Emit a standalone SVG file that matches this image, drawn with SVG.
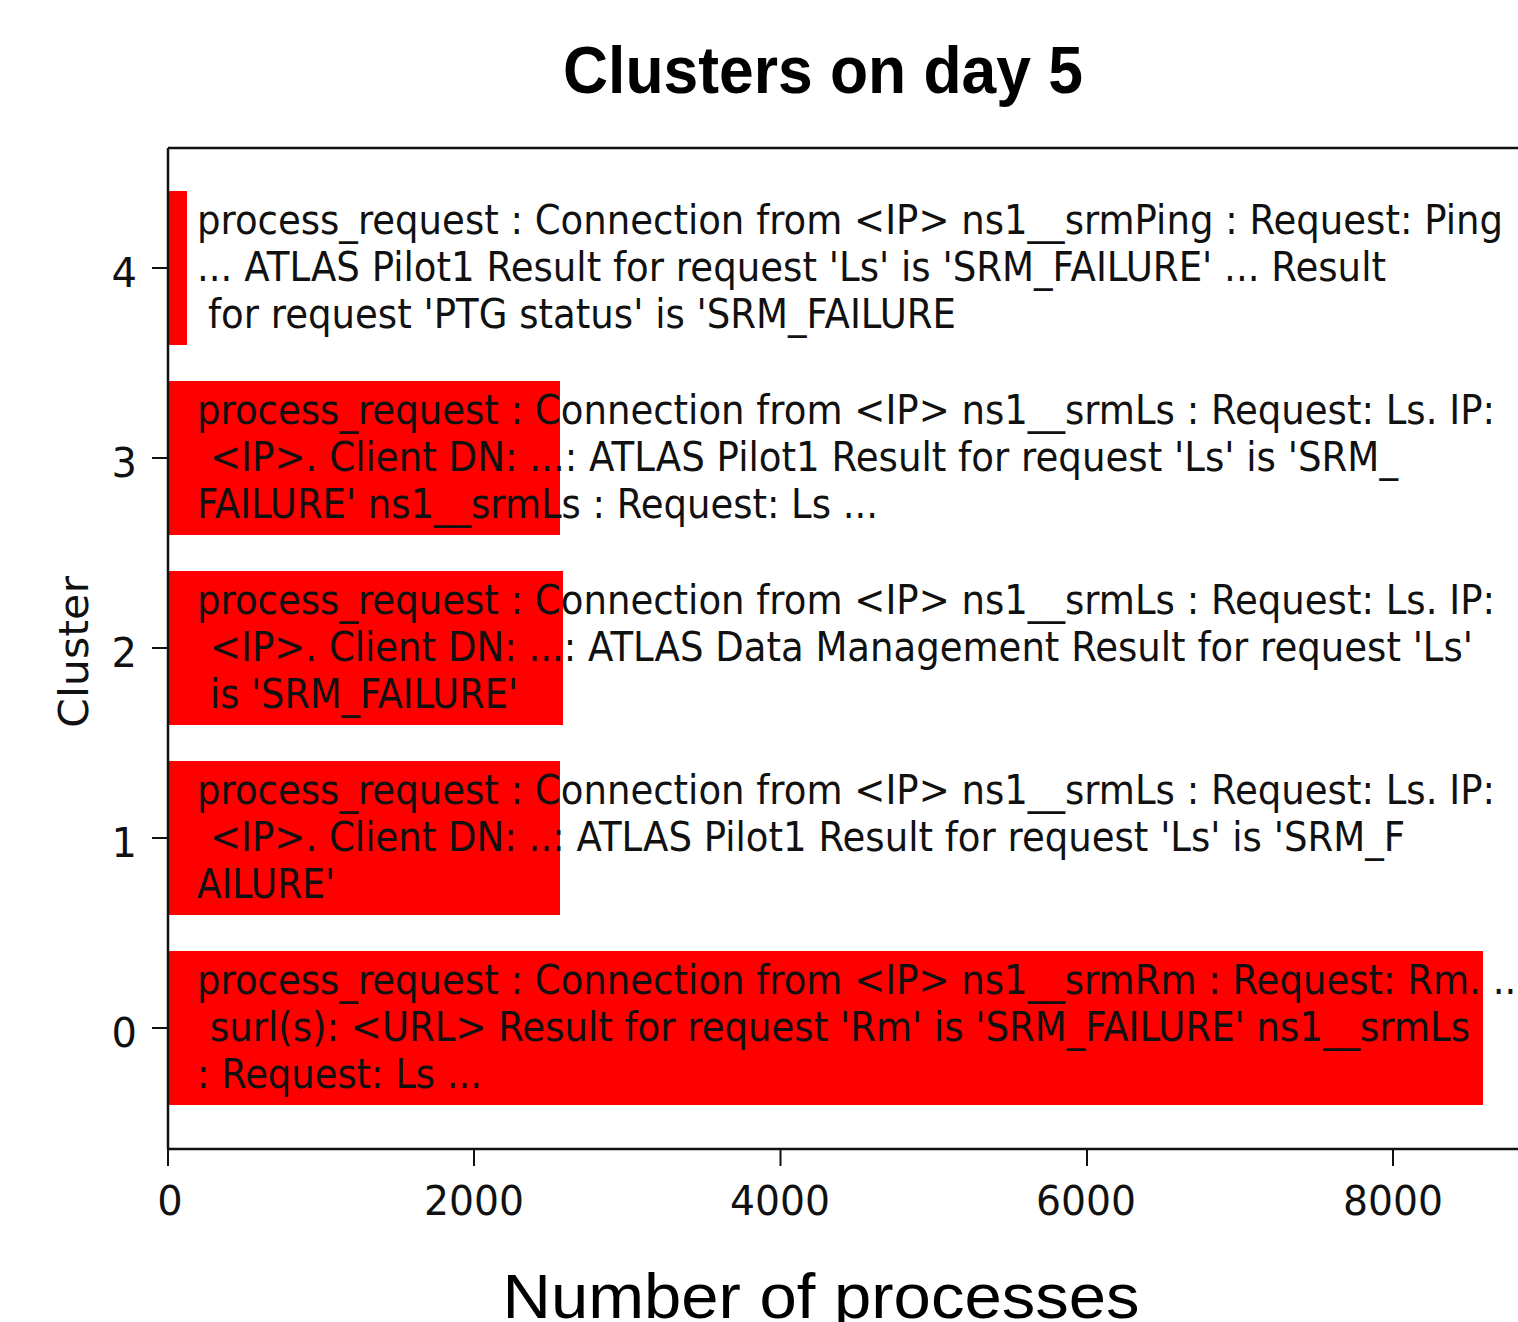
<svg xmlns="http://www.w3.org/2000/svg" width="1518" height="1322" viewBox="0 0 1518 1322">
<style>
.bar{fill:#ff0000}
.lbl{font-family:"DejaVu Sans",sans-serif;font-size:40px;fill:#111}
.tick{font-family:"DejaVu Sans",sans-serif;font-size:40px;fill:#111}
.spine{stroke:#111;stroke-width:2.5;fill:none}
.tk{stroke:#111;stroke-width:2}
</style>
<rect width="1518" height="1322" fill="#ffffff"/>
<text x="823" y="93" text-anchor="middle" font-family="Liberation Sans, Arial, sans-serif" font-weight="bold" font-size="66" textLength="520" lengthAdjust="spacingAndGlyphs" fill="#000">Clusters on day 5</text>

<g id="bars">
<g id="cluster4">
<rect class="bar" x="168" y="191" width="19" height="154"/>
<text class="lbl" x="197" y="234" textLength="1306" lengthAdjust="spacingAndGlyphs">process_request : Connection from &lt;IP&gt; ns1__srmPing : Request: Ping</text>
<text class="lbl" x="197" y="281" textLength="1189" lengthAdjust="spacingAndGlyphs">... ATLAS Pilot1 Result for request 'Ls' is 'SRM_FAILURE' ... Result</text>
<text class="lbl" x="208" y="328" textLength="748" lengthAdjust="spacingAndGlyphs">for request 'PTG status' is 'SRM_FAILURE</text>
</g>
<g id="cluster3">
<rect class="bar" x="168" y="381" width="392" height="154"/>
<text class="lbl" x="197" y="424" textLength="1298" lengthAdjust="spacingAndGlyphs">process_request : Connection from &lt;IP&gt; ns1__srmLs : Request: Ls. IP:</text>
<text class="lbl" x="210" y="471" textLength="1188" lengthAdjust="spacingAndGlyphs">&lt;IP&gt;. Client DN: ...: ATLAS Pilot1 Result for request 'Ls' is 'SRM_</text>
<text class="lbl" x="197" y="518" textLength="681" lengthAdjust="spacingAndGlyphs">FAILURE' ns1__srmLs : Request: Ls ...</text>
</g>
<g id="cluster2">
<rect class="bar" x="168" y="571" width="395" height="154"/>
<text class="lbl" x="197" y="614" textLength="1298" lengthAdjust="spacingAndGlyphs">process_request : Connection from &lt;IP&gt; ns1__srmLs : Request: Ls. IP:</text>
<text class="lbl" x="210" y="661" textLength="1263" lengthAdjust="spacingAndGlyphs">&lt;IP&gt;. Client DN: ...: ATLAS Data Management Result for request 'Ls'</text>
<text class="lbl" x="210" y="708" textLength="308" lengthAdjust="spacingAndGlyphs">is 'SRM_FAILURE'</text>
</g>
<g id="cluster1">
<rect class="bar" x="168" y="761" width="392" height="154"/>
<text class="lbl" x="197" y="804" textLength="1298" lengthAdjust="spacingAndGlyphs">process_request : Connection from &lt;IP&gt; ns1__srmLs : Request: Ls. IP:</text>
<text class="lbl" x="210" y="851" textLength="1195" lengthAdjust="spacingAndGlyphs">&lt;IP&gt;. Client DN: ..: ATLAS Pilot1 Result for request 'Ls' is 'SRM_F</text>
<text class="lbl" x="197" y="898" textLength="138" lengthAdjust="spacingAndGlyphs">AILURE'</text>
</g>
<g id="cluster0">
<rect class="bar" x="168" y="951" width="1315" height="154"/>
<text class="lbl" x="197" y="994" textLength="1331" lengthAdjust="spacingAndGlyphs">process_request : Connection from &lt;IP&gt; ns1__srmRm : Request: Rm. ...</text>
<text class="lbl" x="210" y="1041" textLength="1260" lengthAdjust="spacingAndGlyphs">surl(s): &lt;URL&gt; Result for request 'Rm' is 'SRM_FAILURE' ns1__srmLs</text>
<text class="lbl" x="197" y="1088" textLength="285" lengthAdjust="spacingAndGlyphs">: Request: Ls ...</text>
</g>
</g>

<g id="axes">
<path class="spine" d="M168,148 V1149 M168,148 H1518 M168,1149 H1518"/>
<path class="tk" d="M152,268 H168 M152,458 H168 M152,648 H168 M152,838 H168 M152,1028 H168"/>
<path class="tk" d="M168,1149 V1166 M474,1149 V1166 M780.5,1149 V1166 M1087,1149 V1166 M1393,1149 V1166"/>
<text class="tick" x="137" y="287" text-anchor="end">4</text>
<text class="tick" x="137" y="477" text-anchor="end">3</text>
<text class="tick" x="137" y="667" text-anchor="end">2</text>
<text class="tick" x="137" y="857" text-anchor="end">1</text>
<text class="tick" x="137" y="1047" text-anchor="end">0</text>
<text class="tick" x="170" y="1215" text-anchor="middle">0</text>
<text class="tick" x="474" y="1215" text-anchor="middle" textLength="100" lengthAdjust="spacingAndGlyphs">2000</text>
<text class="tick" x="780" y="1215" text-anchor="middle" textLength="100" lengthAdjust="spacingAndGlyphs">4000</text>
<text class="tick" x="1086" y="1215" text-anchor="middle" textLength="100" lengthAdjust="spacingAndGlyphs">6000</text>
<text class="tick" x="1393" y="1215" text-anchor="middle" textLength="100" lengthAdjust="spacingAndGlyphs">8000</text>
<text class="tick" transform="translate(88,652) rotate(-90)" x="0" y="0" text-anchor="middle" textLength="152" lengthAdjust="spacingAndGlyphs">Cluster</text>
</g>

<text x="821" y="1318" text-anchor="middle" font-family="Liberation Sans, Arial, sans-serif" font-size="63" textLength="637" lengthAdjust="spacingAndGlyphs" fill="#000">Number of processes</text>
</svg>
